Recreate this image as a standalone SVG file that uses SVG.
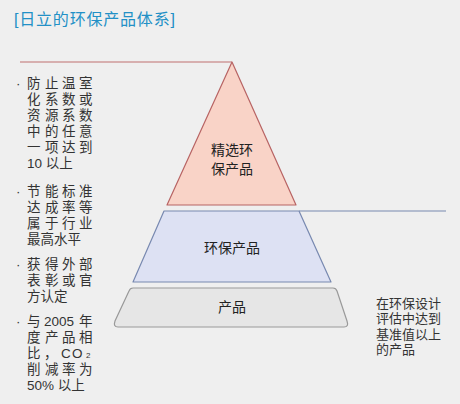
<svg xmlns="http://www.w3.org/2000/svg" width="460" height="404" viewBox="0 0 460 404">
<style>
text{font-family:"Liberation Sans","Noto Sans CJK SC",sans-serif;}
.t{font-size:13.5px;fill:#333;}
.n{font-size:13px;fill:#333;}
.c{font-size:14px;fill:#222;text-anchor:middle;}
.title{font-size:16px;fill:#2290c6;letter-spacing:0.8px;}
</style>
<rect width="460" height="404" fill="#efefef"/>
<text class="title" x="14" y="25">[日立的环保产品体系]</text>
<g id="connectors" fill="none">
<line x1="20" y1="62" x2="232" y2="62" stroke="#c07070" stroke-width="1.2"/>
<line x1="299" y1="211" x2="446" y2="211" stroke="#7889b0" stroke-width="1.2"/>
</g>
<g id="top">
<polygon points="232,62 296,205 167,205" fill="#f9d3c7" stroke="#b86464" stroke-width="1.2" stroke-linejoin="round"/>
<text class="c" x="232" y="155">精选环</text>
<text class="c" x="232" y="174">保产品</text>
</g>
<g id="middle">
<polygon points="164,211 299,211 331,282 133,282" fill="#dde1f3" stroke="#7889b0" stroke-width="1.2" stroke-linejoin="round"/>
<text class="c" x="232" y="253">环保产品</text>
</g>
<g id="bottom">
<path d="M133,288 L333,288 Q336,288 337,291 L347,321 Q349,327 344,327 L118,327 Q113,327 115,321 L129,291 Q130,288 133,288 Z" fill="#e6e6e6" stroke="#999" stroke-width="1.2"/>
<text class="c" x="232" y="312">产品</text>
</g>
<g id="note">
<text class="n" x="376" y="307.5">在环保设计</text>
<text class="n" x="376" y="323">评估中达到</text>
<text class="n" x="376" y="338.5">基准值以上</text>
<text class="n" x="376" y="354">的产品</text>
</g>
<g id="bullets">
<text class="t" x="16" y="88">·</text>
<text class="t" x="27 45 62 79" y="88">防止温室</text>
<text class="t" x="27 45 62 79" y="104">化系数或</text>
<text class="t" x="27 45 62 79" y="120">资源系数</text>
<text class="t" x="27 45 62 79" y="136">中的任意</text>
<text class="t" x="27 45 62 79" y="152">一项达到</text>
<text class="t" x="27" y="168">10 以上</text>
<text class="t" x="16" y="195.5">·</text>
<text class="t" x="27 45 62 79" y="195.5">节能标准</text>
<text class="t" x="27 45 62 79" y="211.5">达成率等</text>
<text class="t" x="27 45 62 79" y="227.5">属于行业</text>
<text class="t" x="27" y="243.5">最高水平</text>
<text class="t" x="16" y="268.5">·</text>
<text class="t" x="27 45 62 79" y="268.5">获得外部</text>
<text class="t" x="27 45 62 79" y="284.5">表彰或官</text>
<text class="t" x="27" y="300.5">方认定</text>
<text class="t" x="16" y="325.5">·</text>
<text class="t" y="325.5"><tspan x="27">与</tspan><tspan x="44">2005</tspan><tspan x="79">年</tspan></text>
<text class="t" x="27 45 62 79" y="341.5">度产品相</text>
<text class="t" y="357.5"><tspan x="27">比</tspan><tspan x="44">，</tspan><tspan x="61">C</tspan><tspan x="72">O</tspan><tspan x="86" font-size="8">2</tspan></text>
<text class="t" x="27 45 62 79" y="373.5">削减率为</text>
<text class="t" x="27" y="389.5">50% 以上</text>
</g>
</svg>
